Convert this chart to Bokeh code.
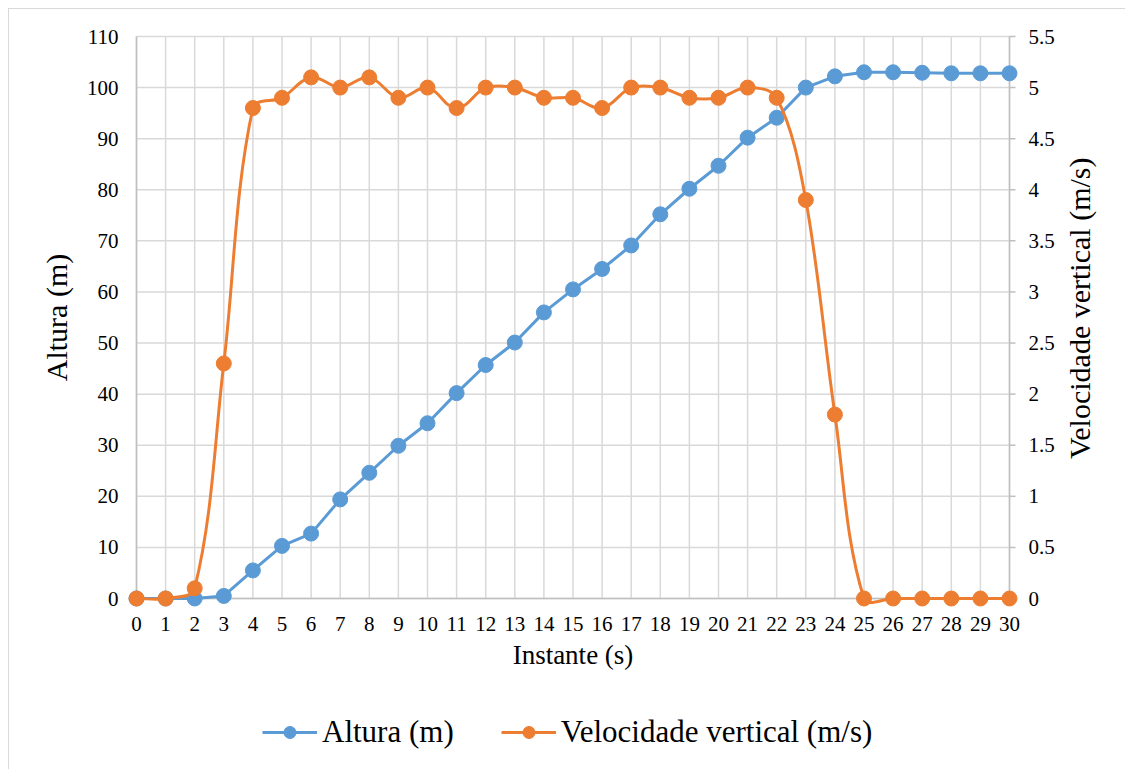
import math
from bokeh.plotting import figure
from bokeh.layouts import row, column
from bokeh.models import (Range1d, LinearAxis, FixedTicker, Legend, LegendItem,
                          InlineStyleSheet)
from bokeh.core.properties import value
from bokeh.embed import file_html
from bokeh.resources import INLINE

# ---- data ----
instante = list(range(0, 31))
altura = [0, 0, 0, 0.5, 5.5, 10.3, 12.7, 19.4, 24.6, 29.9, 34.3, 40.2, 45.7, 50.1,
          56.0, 60.5, 64.5, 69.1, 75.2, 80.2, 84.7, 90.2, 94.1, 100.0, 102.2, 103.0,
          103.0, 102.9, 102.8, 102.8, 102.8]
velocidade = [0, 0, 0.1, 2.3, 4.8, 4.9, 5.1, 5.0, 5.1, 4.9, 5.0, 4.8, 5.0, 5.0, 4.9,
              4.9, 4.8, 5.0, 5.0, 4.9, 4.9, 5.0, 4.9, 3.9, 1.8, 0, 0, 0, 0, 0, 0]
x_ticks = list(range(0, 31))
alt_ticks = list(range(0, 111, 10))
vel_ticks = [0, 0.5, 1, 1.5, 2, 2.5, 3, 3.5, 4, 4.5, 5, 5.5]
vel_tick_labels = ["0", "0.5", "1", "1.5", "2", "2.5", "3", "3.5", "4", "4.5", "5", "5.5"]
series_names = ["Altura (m)", "Velocidade vertical (m/s)"]
x_title = "Instante (s)"

BLUE = "#5B9BD5"
ORANGE = "#ED7D31"
FONT = "Liberation Serif"
GRID = "#d9d9d9"
AXIS = "#bfbfbf"

# ---- geometry (pixels) ----
MAIN_W, MAIN_H = 1060, 700
PLOT_L, PLOT_T, PLOT_W, PLOT_H = 136, 36, 873, 562
PAD = 12                       # frame margin so edge markers are not clipped
X_MAX, ALT_MAX, VEL_MAX = 30, 110, 5.5
xpu = PLOT_W / X_MAX
ypu = PLOT_H / ALT_MAX
vpu = PLOT_H / VEL_MAX

p = figure(width=MAIN_W, height=MAIN_H, output_backend="svg", toolbar_location=None,
           x_range=Range1d(-PAD / xpu, X_MAX + PAD / xpu),
           y_range=Range1d(-PAD / ypu, ALT_MAX + PAD / ypu),
           min_border_left=PLOT_L - PAD,
           min_border_right=MAIN_W - (PLOT_L + PLOT_W) - PAD,
           min_border_top=PLOT_T - PAD,
           min_border_bottom=MAIN_H - (PLOT_T + PLOT_H) - PAD)
p.extra_y_ranges = {"vel": Range1d(-PAD / vpu, VEL_MAX + PAD / vpu)}
p.outline_line_color = None
p.background_fill_color = "white"
p.border_fill_color = "white"
p.xgrid.visible = False
p.ygrid.visible = False

# grid from the tick lists
p.segment(x0=x_ticks, y0=[0] * len(x_ticks), x1=x_ticks, y1=[ALT_MAX] * len(x_ticks),
          line_color=GRID, line_width=1.5, level="underlay")
p.segment(x0=[0] * len(alt_ticks), y0=alt_ticks, x1=[X_MAX] * len(alt_ticks), y1=alt_ticks,
          line_color=GRID, line_width=1.5, level="underlay")
# axis lines and the right axis' outside ticks
p.segment(x0=[0, X_MAX, 0], y0=[0, 0, 0], x1=[0, X_MAX, X_MAX], y1=[ALT_MAX, ALT_MAX, 0],
          line_color=AXIS, line_width=1.5, level="underlay")
p.segment(x0=[X_MAX] * len(vel_ticks), y0=vel_ticks,
          x1=[X_MAX + 6 / xpu] * len(vel_ticks), y1=vel_ticks,
          line_color=AXIS, line_width=1.5, y_range_name="vel", level="underlay")

# axes (labels only; lines drawn above)
xa = p.xaxis[0]
ya = p.yaxis[0]
xa.ticker = FixedTicker(ticks=x_ticks)
ya.ticker = FixedTicker(ticks=alt_ticks)
ax_r = LinearAxis(y_range_name="vel", ticker=FixedTicker(ticks=vel_ticks),
                  major_label_overrides={t: l for t, l in zip(vel_ticks, vel_tick_labels)})
p.add_layout(ax_r, "right")

for ax in (xa, ya, ax_r):
    ax.axis_line_color = None
    ax.major_tick_line_color = None
    ax.major_tick_in = 0
    ax.major_tick_out = 0
    ax.minor_tick_line_color = None
    ax.major_label_text_font = FONT
    ax.major_label_text_font_size = "21px"
    ax.major_label_text_color = "black"
    ax.axis_label_text_font = FONT
    ax.axis_label_text_font_style = "normal"
    ax.axis_label_text_color = "black"

ya.major_label_standoff = 6
ax_r.major_label_standoff = 7
xa.major_label_standoff = 6

xa.axis_label = x_title
xa.axis_label_text_font_size = "27px"
xa.axis_label_standoff = 6
ya.axis_label = series_names[0]
ya.axis_label_text_font_size = "30px"
ya.axis_label_standoff = 11

# ---- series ----
l1 = p.line(instante, altura, line_color=BLUE, line_width=3, line_join="round")
s1 = p.scatter(instante, altura, size=15, fill_color=BLUE, line_color=BLUE)

# smoothed velocity line: Excel-like bezier segments (tangent directions from the
# neighbours, control distance a third of the segment length, in screen space)
n = len(instante)
sx = [v * xpu for v in instante]
sy = [v * vpu for v in velocidade]


def unit_tangent(i):
    a = max(i - 1, 0)
    b = min(i + 1, n - 1)
    dx, dy = sx[b] - sx[a], sy[b] - sy[a]
    d = math.hypot(dx, dy)
    return (dx / d, dy / d) if d > 0 else (0.0, 0.0)


x0s, y0s, x1s, y1s, cx0s, cy0s, cx1s, cy1s = [], [], [], [], [], [], [], []
for i in range(n - 1):
    L = math.hypot(sx[i + 1] - sx[i], sy[i + 1] - sy[i]) / 3.0
    ua = unit_tangent(i)
    ub = unit_tangent(i + 1)
    x0s.append(instante[i]); y0s.append(velocidade[i])
    x1s.append(instante[i + 1]); y1s.append(velocidade[i + 1])
    cx0s.append((sx[i] + ua[0] * L) / xpu); cy0s.append((sy[i] + ua[1] * L) / vpu)
    cx1s.append((sx[i + 1] - ub[0] * L) / xpu); cy1s.append((sy[i + 1] - ub[1] * L) / vpu)

p.bezier(x0=x0s, y0=y0s, x1=x1s, y1=y1s, cx0=cx0s, cy0=cy0s, cx1=cx1s, cy1=cy1s,
         line_color=ORANGE, line_width=3, line_cap="round", y_range_name="vel")
p.scatter(instante, velocidade, size=15, fill_color=ORANGE, line_color=ORANGE,
          y_range_name="vel")

# ---- right axis title (reads bottom to top), in a narrow strip ----
RT_W = 1125 - MAIN_W
prt = figure(width=RT_W, height=MAIN_H, output_backend="svg", toolbar_location=None,
             x_range=Range1d(0, RT_W), y_range=Range1d(0, MAIN_H),
             x_axis_location=None, y_axis_location=None,
             min_border=0, min_border_left=0, min_border_right=0,
             min_border_top=0, min_border_bottom=0)
prt.outline_line_color = None
prt.grid.visible = False
prt.background_fill_color = "white"
prt.border_fill_color = "white"
prt.text(x=[19], y=[MAIN_H - (PLOT_T + PLOT_H / 2) - 22],
         text=[series_names[1]],
         angle=math.pi / 2, text_align="center", text_baseline="alphabetic",
         text_font=value(FONT), text_font_size="30px", text_color="black")

# ---- legend strip (series drawn off-range: only the legend shows) ----
LEG_H = 769 - MAIN_H
pl = figure(width=1125, height=LEG_H, output_backend="svg", toolbar_location=None,
            x_range=Range1d(1000, 1001), y_range=Range1d(1000, 1001),
            x_axis_location=None, y_axis_location=None,
            min_border=0, min_border_left=0, min_border_right=0,
            min_border_top=0, min_border_bottom=0)
pl.outline_line_color = None
pl.grid.visible = False
pl.background_fill_color = "white"
pl.border_fill_color = "white"
r_l1 = pl.line(instante, altura, line_color=BLUE, line_width=3)
r_s1 = pl.scatter(instante, altura, fill_color=BLUE, line_color=BLUE)
r_l2 = pl.line(instante, velocidade, line_color=ORANGE, line_width=3)
r_s2 = pl.scatter(instante, velocidade, fill_color=ORANGE, line_color=ORANGE)
legend = Legend(items=[LegendItem(label=series_names[0], renderers=[r_l1, r_s1]),
                       LegendItem(label=series_names[1], renderers=[r_l2, r_s2])],
                orientation="horizontal", location=(262, 19),
                glyph_width=55, glyph_height=30, label_standoff=5, spacing=47,
                padding=0, margin=0, border_line_color=None, background_fill_alpha=0,
                label_text_font=FONT, label_text_font_size="31px", label_text_color="black")
pl.add_layout(legend, "center")

layout = column(row(p, prt, spacing=0), pl, spacing=0)
layout.stylesheets = [InlineStyleSheet(css=":host{position:relative;} :host::after{content:'';position:absolute;left:8px;top:8px;right:-20px;bottom:-20px;border:1.5px solid #d9d9d9;pointer-events:none;}")]

open("out.html", "w").write(file_html(layout, INLINE))
